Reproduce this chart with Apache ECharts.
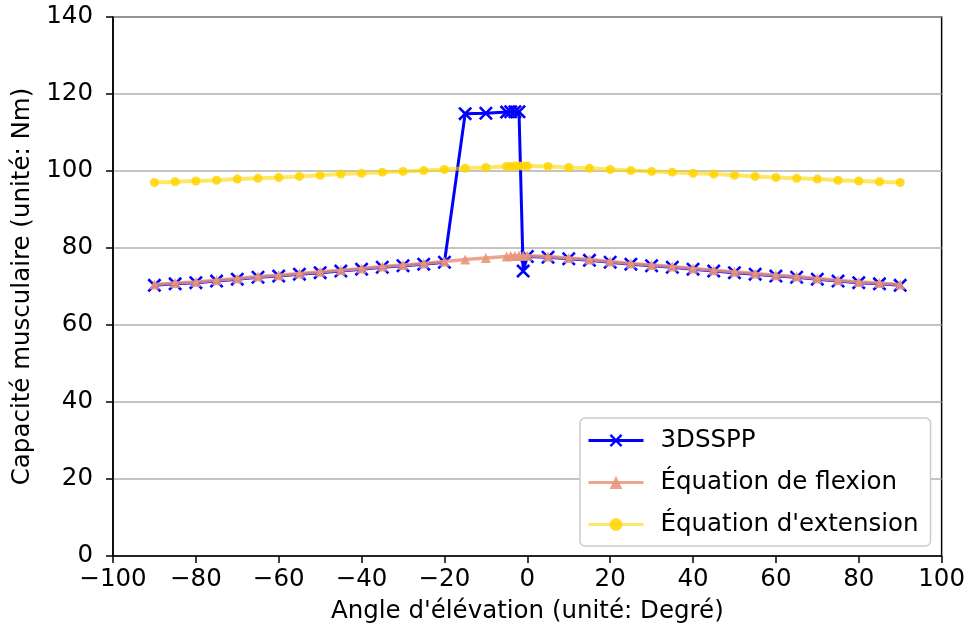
<!DOCTYPE html>
<html>
<head>
<meta charset="utf-8">
<script src="https://cdn.jsdelivr.net/npm/echarts@6/dist/echarts.min.js"></script>
<style>html,body{margin:0;padding:0;background:#fff}#c{width:968px;height:634px}</style>
</head>
<body>
<div id="c"></div>
<script>
var angles = [-90,-85,-80,-75,-70,-65,-60,-55,-50,-45,-40,-35,-30,-25,-20,-15,-10,-5,-4,-3,-2,-1,0,5,10,15,20,25,30,35,40,45,50,55,60,65,70,75,80,85,90];
var sspp = [70.3,70.7,71.0,71.4,71.9,72.4,72.7,73.2,73.6,74.0,74.5,75.0,75.4,75.8,76.3,114.9,115.0,115.3,115.4,115.4,115.4,74.0,77.8,77.6,77.2,76.8,76.3,75.8,75.4,75.0,74.5,74.0,73.6,73.2,72.7,72.4,71.9,71.4,71.0,70.7,70.3];
var flexion = [70.5,70.9,71.2,71.6,72.1,72.6,72.9,73.4,73.8,74.2,74.7,75.2,75.6,76.0,76.5,77.0,77.4,77.8,77.9,77.9,78.0,78.0,78.0,77.8,77.4,77.0,76.5,76.0,75.6,75.2,74.7,74.2,73.8,73.4,72.9,72.6,72.1,71.6,71.2,70.9,70.5];
var extension = [97.0,97.2,97.4,97.6,97.9,98.1,98.3,98.6,98.9,99.2,99.4,99.7,99.9,100.1,100.4,100.7,100.9,101.2,101.2,101.3,101.3,101.3,101.3,101.2,100.9,100.7,100.4,100.1,99.9,99.7,99.4,99.2,98.9,98.6,98.3,98.1,97.9,97.6,97.4,97.2,97.0];
var seriesNames = ['3DSSPP', 'Équation de flexion', "Équation d'extension"];
var xTitle = "Angle d'élévation (unité: Degré)";
var yTitle = 'Capacité musculaire (unité: Nm)';

function pairs(ys){ return angles.map(function(a,i){ return [a, ys[i]]; }); }
var font = 'DejaVu Sans';
var fs = 24.5;
var xMark = 'path://M0,1.3L1.3,0L5,3.7L8.7,0L10,1.3L6.3,5L10,8.7L8.7,10L5,6.3L1.3,10L0,8.7L3.7,5Z';
function fmt(v){ return String(v).replace('-', '\u2212'); }

var chart = echarts.init(document.getElementById('c'), null, {renderer:'canvas'});
chart.setOption({
  animation: false,
  backgroundColor: '#fff',
  grid: {left:113, right:26, top:17, bottom:78, show:true, borderColor:'#000', borderWidth:1.5, backgroundColor:'transparent'},
  xAxis: {
    type:'value', min:-100, max:100, interval:20,
    name: xTitle, nameLocation:'middle', nameGap:43,
    nameTextStyle:{fontFamily:font, fontSize:fs, color:'#000'},
    axisLine:{show:true, onZero:false, lineStyle:{color:'#000', width:1.5}},
    axisTick:{show:true, length:7, lineStyle:{color:'#000', width:1.5}},
    axisLabel:{fontFamily:font, fontSize:fs, color:'#000', margin:11, formatter:fmt},
    splitLine:{show:false}
  },
  yAxis: {
    type:'value', min:0, max:140, interval:20,
    name: yTitle, nameLocation:'middle', nameGap:76,
    nameTextStyle:{fontFamily:font, fontSize:fs, color:'#000'},
    axisLine:{show:true, onZero:false, lineStyle:{color:'#000', width:1.5}},
    axisTick:{show:true, length:7, lineStyle:{color:'#000', width:1.5}},
    axisLabel:{fontFamily:font, fontSize:fs, color:'#000', margin:20},
    splitLine:{show:true, lineStyle:{color:'#b0b0b0', width:1.5}}
  },
  legend: {
    orient:'vertical', left:580, top:418,
    backgroundColor:'#fff', borderColor:'#cccccc', borderWidth:1.5, borderRadius:5,
    padding:[10, 12, 9, 7], itemGap:17, itemWidth:55, itemHeight:16,
    lineStyle:{width:3},
    textStyle:{fontFamily:font, fontSize:fs, color:'#000', padding:[0,0,0,12]},
    data: seriesNames
  },
  series: [
    {name:seriesNames[0], type:'line', data:pairs(sspp), symbol:xMark, symbolSize:14,
     lineStyle:{color:'#0000ff', width:3}, itemStyle:{color:'#0000ff'}, z:2},
    {name:seriesNames[1], type:'line', data:pairs(flexion), symbol:'triangle', symbolSize:10,
     lineStyle:{color:'rgba(233,150,122,0.85)', width:3.5}, itemStyle:{color:'rgba(233,150,122,0.9)'}, z:3},
    {name:seriesNames[2], type:'line', data:pairs(extension), symbol:'circle', symbolSize:9,
     lineStyle:{color:'rgba(255,215,0,0.6)', width:4}, itemStyle:{color:'rgba(255,212,0,0.85)'}, z:4}
  ]
});
</script>
</body>
</html>
